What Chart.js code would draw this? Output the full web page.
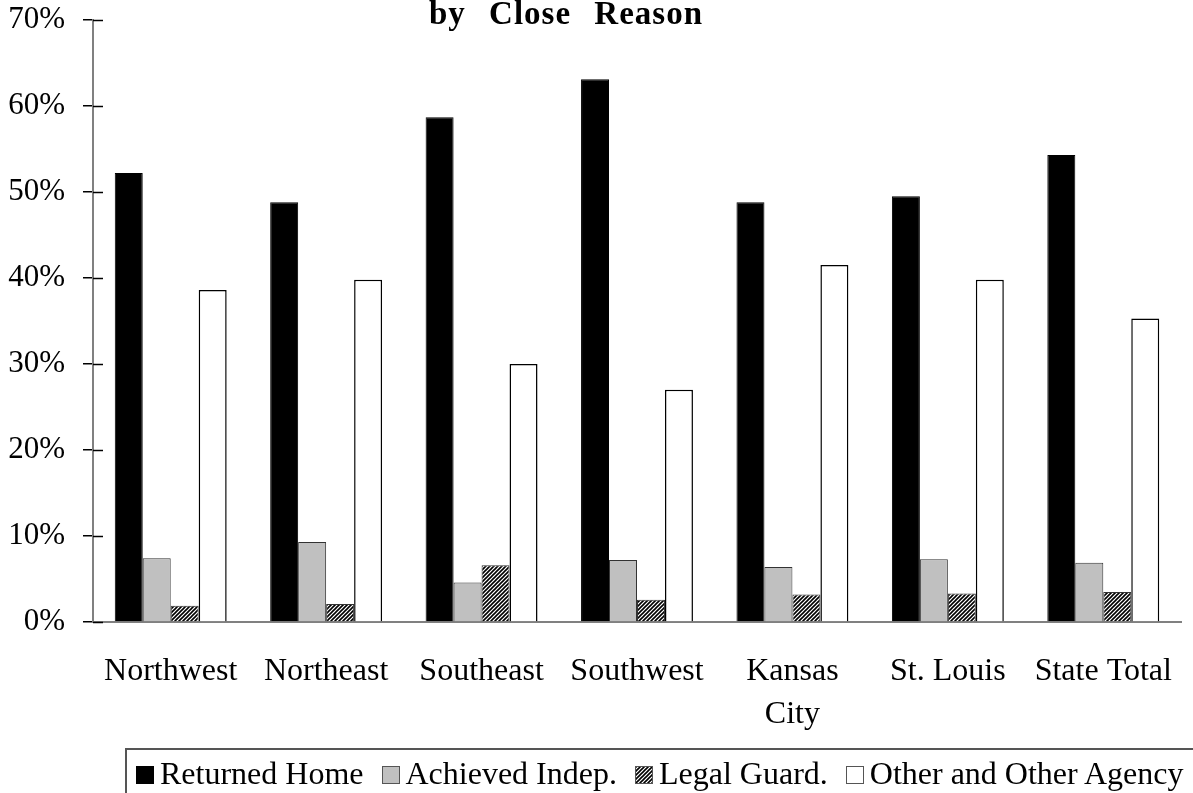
<!DOCTYPE html>
<html>
<head>
<meta charset="utf-8">
<script src="https://cdn.jsdelivr.net/npm/chart.js@4.4.1/dist/chart.umd.min.js"></script>
<style>
  html, body { margin: 0; padding: 0; background: #fff; }
  #wrap { position: relative; width: 1193px; height: 793px; overflow: hidden; }
  #c { position: absolute; left: 0; top: 0; }
  #legend {
    position: absolute; left: 125px; top: 748px; width: 1200px; height: 80px;
    border-top: 2px solid #555; border-left: 2px solid #555; box-sizing: border-box;
    font-family: "Liberation Serif", "Times New Roman", serif; font-size: 32px; color: #000;
    display: flex; align-items: flex-start; padding-left: 9px; padding-top: 7px;
  }
  .item { display: flex; align-items: flex-start; margin-right: 18px; white-space: nowrap; line-height: 32px; }
  .sw { width: 16px; height: 16px; margin-right: 6px; margin-top: 9px; box-sizing: content-box; }
</style>
</head>
<body>
<div id="wrap">
  <canvas id="c" width="1193" height="793"></canvas>
  <div id="legend"></div>
</div>
<script>
const titleText = 'by Close Reason';
const categories = ['Northwest', 'Northeast', 'Southeast', 'Southwest', ['Kansas', 'City'], 'St. Louis', 'State Total'];
const seriesNames = ['Returned Home', 'Achieved Indep.', 'Legal Guard.', 'Other and Other Agency'];
const returnedHome = [52.2, 48.8, 58.7, 63.1, 48.8, 49.5, 54.3];
const achievedIndep = [7.4, 9.3, 4.6, 7.2, 6.4, 7.3, 6.9];
const legalGuard = [1.9, 2.1, 6.6, 2.6, 3.2, 3.3, 3.5];
const otherAgency = [38.6, 39.8, 30.0, 27.0, 41.5, 39.8, 35.3];
const yTicks = [0, 10, 20, 30, 40, 50, 60, 70];

// hatch pattern
const pc = document.createElement('canvas');
pc.width = 4; pc.height = 4;
const px = pc.getContext('2d');
px.fillStyle = '#fff'; px.fillRect(0, 0, 4, 4);
px.strokeStyle = '#000'; px.lineWidth = 1.6;
px.beginPath();
px.moveTo(-1, 5); px.lineTo(5, -1);
px.moveTo(-1, 1); px.lineTo(1, -1);
px.moveTo(3, 5); px.lineTo(5, 3);
px.stroke();
const ctxMain = document.getElementById('c').getContext('2d');
const hatch = ctxMain.createPattern(pc, 'repeat');

const styles = [
  { bg: '#000000', border: '#000000', bw: 1, css: 'background:#000;border:1px solid #000;' },
  { bg: '#c0c0c0', border: '#333333', bw: 1, css: 'background:#c0c0c0;border:1px solid #555;' },
  { bg: hatch, border: '#333333', bw: 1, css: 'background-image:url(' + pc.toDataURL() + ');border:1px solid #555;' },
  { bg: '#ffffff', border: '#000000', bw: 1.5, css: 'background:#fff;border:1px solid #555;' }
];
const values = [returnedHome, achievedIndep, legalGuard, otherAgency];

const datasets = values.map((v, i) => ({
  label: seriesNames[i],
  data: v,
  backgroundColor: styles[i].bg,
  borderColor: styles[i].border,
  borderWidth: styles[i].bw,
  categoryPercentage: 0.72,
  barPercentage: 1.0
}));

// HTML legend
const lg = document.getElementById('legend');
seriesNames.forEach((n, i) => {
  const it = document.createElement('div');
  it.className = 'item';
  const sw = document.createElement('span');
  sw.className = 'sw';
  sw.style.cssText = styles[i].css;
  const tx = document.createElement('span');
  tx.textContent = n;
  it.appendChild(sw); it.appendChild(tx);
  lg.appendChild(it);
});

const FONT = '"Liberation Serif", "Times New Roman", serif';

const innerTicks = {
  id: 'innerTicks',
  afterDatasetsDraw(chart) {
    const y = chart.scales.y;
    const c = chart.ctx;
    c.save();
    c.strokeStyle = '#000';
    c.lineWidth = 1.5;
    yTicks.forEach(t => {
      const yy = Math.round(y.getPixelForValue(t)) + 0.5;
      c.beginPath();
      c.moveTo(chart.chartArea.left, yy);
      c.lineTo(chart.chartArea.left + 10, yy);
      c.stroke();
    });
    c.restore();
  }
};

const titlePlugin = {
  id: 'titlePlugin',
  afterDraw(chart) {
    const c = chart.ctx;
    c.save();
    c.font = 'bold 33px ' + FONT;
    c.fillStyle = '#000';
    c.textAlign = 'left';
    c.textBaseline = 'alphabetic';
    if ('letterSpacing' in c) c.letterSpacing = '1px';
    if ('wordSpacing' in c) c.wordSpacing = '14px';
    c.fillText(titleText, 429, 24);
    c.restore();
  }
};

new Chart(ctxMain, {
  type: 'bar',
  data: { labels: categories, datasets },
  options: {
    responsive: false,
    animation: false,
    devicePixelRatio: 1,
    layout: { padding: { top: 20, right: 12, left: 0, bottom: 0 } },
    plugins: { legend: { display: false }, title: { display: false }, tooltip: { enabled: false } },
    scales: {
      x: {
        grid: { display: false, drawTicks: false },
        border: { display: true, color: '#808080', width: 2 },
        ticks: { color: '#000', font: { family: FONT, size: 32, lineHeight: 1.35 }, padding: 28, maxRotation: 0, autoSkip: false },
        afterFit(s) { s.height = 171; s.paddingLeft = 0; s.paddingRight = 0; }
      },
      y: {
        min: 0, max: 70,
        grid: { drawOnChartArea: false, drawTicks: true, tickLength: 10, color: '#000', lineWidth: 1.5 },
        border: { display: true, color: '#808080', width: 2 },
        ticks: { stepSize: 10, color: '#000', padding: 18, font: { family: FONT, size: 31 }, callback: v => v + '%' },
        afterFit(s) { s.width = 93; s.paddingTop = 0; s.paddingBottom = 0; }
      }
    }
  },
  plugins: [innerTicks, titlePlugin]
});
</script>
</body>
</html>
